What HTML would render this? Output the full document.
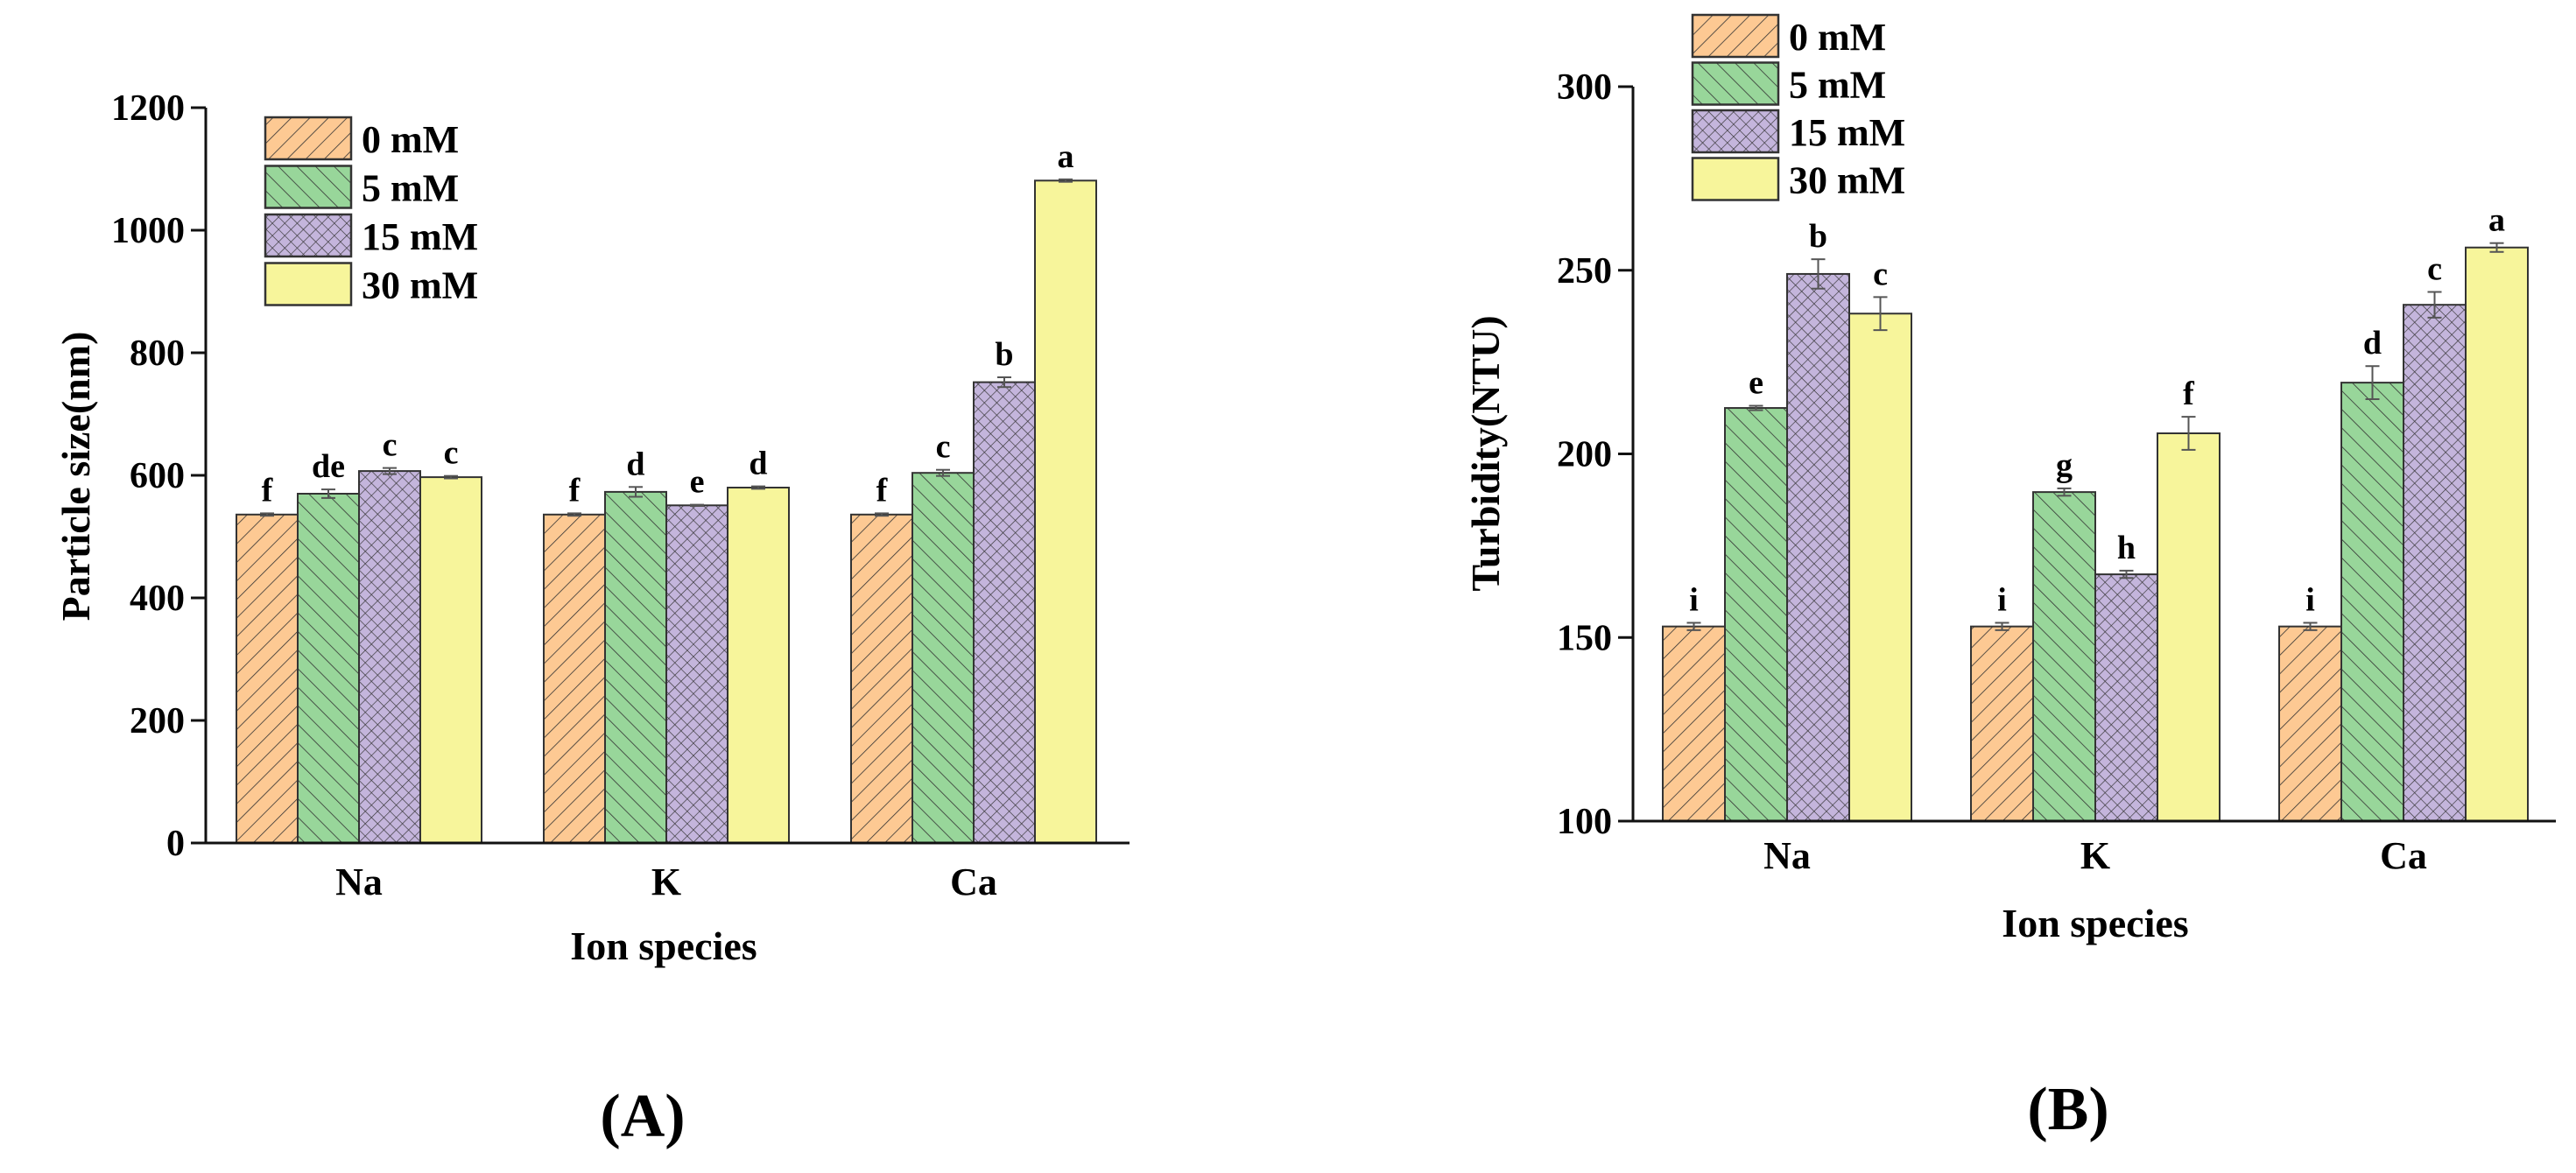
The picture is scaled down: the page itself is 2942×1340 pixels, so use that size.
<!DOCTYPE html>
<html><head><meta charset="utf-8"><style>
html,body{margin:0;padding:0;background:#fff;}
svg{display:block;font-family:"Liberation Serif",serif;font-weight:bold;}
</style></head><body>
<svg id="root" width="2942" height="1340" viewBox="0 0 2942 1340" xmlns="http://www.w3.org/2000/svg">
<defs>
<pattern id="pOrange" patternUnits="userSpaceOnUse" width="15" height="15" patternTransform="rotate(45)">
<rect width="15" height="15" fill="#fdc993"/><line x1="0" y1="0" x2="0" y2="15" stroke="#333" stroke-width="1.6"/></pattern>
<pattern id="pGreen" patternUnits="userSpaceOnUse" width="15" height="15" patternTransform="rotate(-45)">
<rect width="15" height="15" fill="#98d69a"/><line x1="0" y1="0" x2="0" y2="15" stroke="#333" stroke-width="1.6"/></pattern>
<pattern id="pPurple" patternUnits="userSpaceOnUse" width="10" height="10" patternTransform="rotate(45)">
<rect width="10" height="10" fill="#c4b5dc"/><line x1="0" y1="0" x2="0" y2="10" stroke="#333" stroke-width="1.3"/><line x1="0" y1="0" x2="10" y2="0" stroke="#333" stroke-width="1.3"/></pattern>
</defs>
<g id="chartA"></g>
<g id="chartB"></g>
<text x="734" y="1298" font-size="70" text-anchor="middle">(A)</text>
<text x="2362" y="1290" font-size="70" text-anchor="middle">(B)</text>
</svg>
<script>
const categories = ["Na", "K", "Ca"];
const seriesNames = ["0 mM", "5 mM", "15 mM", "30 mM"];
const fills = ["url(#pOrange)", "url(#pGreen)", "url(#pPurple)", "#f7f59b"];
// Chart A: particle size (nm)
const sizeValues = [[536, 570, 607, 597], [536, 573, 551, 580], [536, 604, 752, 1081]];
const sizeErrors = [[2, 7, 5, 2], [2, 8, 1, 2], [2, 5, 8, 2]];
const sizeLetters = [["f", "de", "c", "c"], ["f", "d", "e", "d"], ["f", "c", "b", "a"]];
const sizeTicks = [0, 200, 400, 600, 800, 1000, 1200];
// Chart B: turbidity (NTU)
const turbValues = [[153, 212.5, 249, 238.2], [153, 189.6, 167.2, 205.6], [153, 219.4, 240.6, 256.2]];
const turbErrors = [[1, 0.6, 4, 4.5], [1, 1, 1, 4.5], [1, 4.5, 3.5, 1.2]];
const turbLetters = [["i", "e", "b", "c"], ["i", "g", "h", "f"], ["i", "d", "c", "a"]];
const turbTicks = [100, 150, 200, 250, 300];

const NS = "http://www.w3.org/2000/svg";
function mk(parent, tag, attrs, text) {
  const el = document.createElementNS(NS, tag);
  for (const k in attrs) el.setAttribute(k, attrs[k]);
  if (text !== undefined) el.textContent = text;
  parent.appendChild(el);
  return el;
}

function drawChart(g, cfg, values, errors, letters, ticks) {
  const yScale = v => cfg.y0 - (v - cfg.vmin) / (cfg.vmax - cfg.vmin) * (cfg.y0 - cfg.y1);
  const barW = cfg.barW;
  // bars
  categories.forEach((cat, ci) => {
    const center = cfg.firstCenter + ci * cfg.pitch;
    values[ci].forEach((v, si) => {
      const x = center - 2 * barW + si * barW;
      const y = yScale(v);
      const r = mk(g, "rect", {x: x, y: y, width: barW, height: cfg.y0 - y, fill: fills[si], stroke: "#333", "stroke-width": 2});
      
      
      const cx = x + barW / 2;
      const e = errors[ci][si];
      const eg = mk(g, "g", {stroke: "#555", "stroke-width": 2});
      
      
      mk(eg, "line", {x1: cx, x2: cx, y1: yScale(v + e), y2: yScale(v - e)});
      mk(eg, "line", {x1: cx - 8, x2: cx + 8, y1: yScale(v + e), y2: yScale(v + e)});
      mk(eg, "line", {x1: cx - 8, x2: cx + 8, y1: yScale(v - e), y2: yScale(v - e)});
      const t = mk(g, "text", {x: cx, y: yScale(v + e) - 14, "font-size": 38, "text-anchor": "middle"}, letters[ci][si]);
      
      
    });
    const cl = mk(g, "text", {x: center, y: cfg.catY, "font-size": 44, "text-anchor": "middle"}, cat);
    
    
  });
  // axes
  const ax = mk(g, "path", {d: `M${cfg.ax} ${cfg.y1} V${cfg.y0} H${cfg.axEnd}`, stroke: "#111", "stroke-width": 3, fill: "none"});
  
  
  ticks.forEach(tv => {
    const y = yScale(tv);
    mk(g, "line", {x1: cfg.ax - 17, x2: cfg.ax, y1: y, y2: y, stroke: "#111", "stroke-width": 3});
    const tl = mk(g, "text", {x: cfg.ax - 24, y: y + 14, "font-size": 42, "text-anchor": "end"}, tv);
    
    
  });
  const yt = mk(g, "text", {x: 0, y: 0, "font-size": 46, "text-anchor": "middle", transform: `translate(${cfg.ytX},${cfg.ytY}) rotate(-90)`}, cfg.yTitle);
  
  
  const xt = mk(g, "text", {x: cfg.xtX, y: cfg.xtY, "font-size": 46, "text-anchor": "middle"}, "Ion species");
  
  
  // legend
  seriesNames.forEach((n, si) => {
    const y = cfg.legY + si * cfg.legPitch;
    const lg = mk(g, "g", {});
    
    
    mk(lg, "rect", {x: cfg.legX, y: y, width: 98, height: 48, fill: fills[si], stroke: "#333", "stroke-width": 2.5});
    mk(lg, "text", {x: cfg.legX + 110, y: y + 40, "font-size": 44}, n);
  });
}

drawChart(document.getElementById("chartA"), {
  vmin: 0, vmax: 1200, y0: 963, y1: 123, ax: 235, axEnd: 1290, barW: 70,
  firstCenter: 410, pitch: 351, catY: 1022, ytX: 102, ytY: 544, yTitle: "Particle size(nm)",
  xtX: 758, xtY: 1096, legX: 303, legY: 134, legPitch: 55.5
}, sizeValues, sizeErrors, sizeLetters, sizeTicks);

drawChart(document.getElementById("chartB"), {
  vmin: 100, vmax: 300, y0: 938, y1: 99, ax: 1865, axEnd: 2919, barW: 71,
  firstCenter: 2041, pitch: 352, catY: 992, ytX: 1712, ytY: 518, yTitle: "Turbidity(NTU)",
  xtX: 2393, xtY: 1070, legX: 1933, legY: 17, legPitch: 54.5
}, turbValues, turbErrors, turbLetters, turbTicks);
</script>
</body></html>
